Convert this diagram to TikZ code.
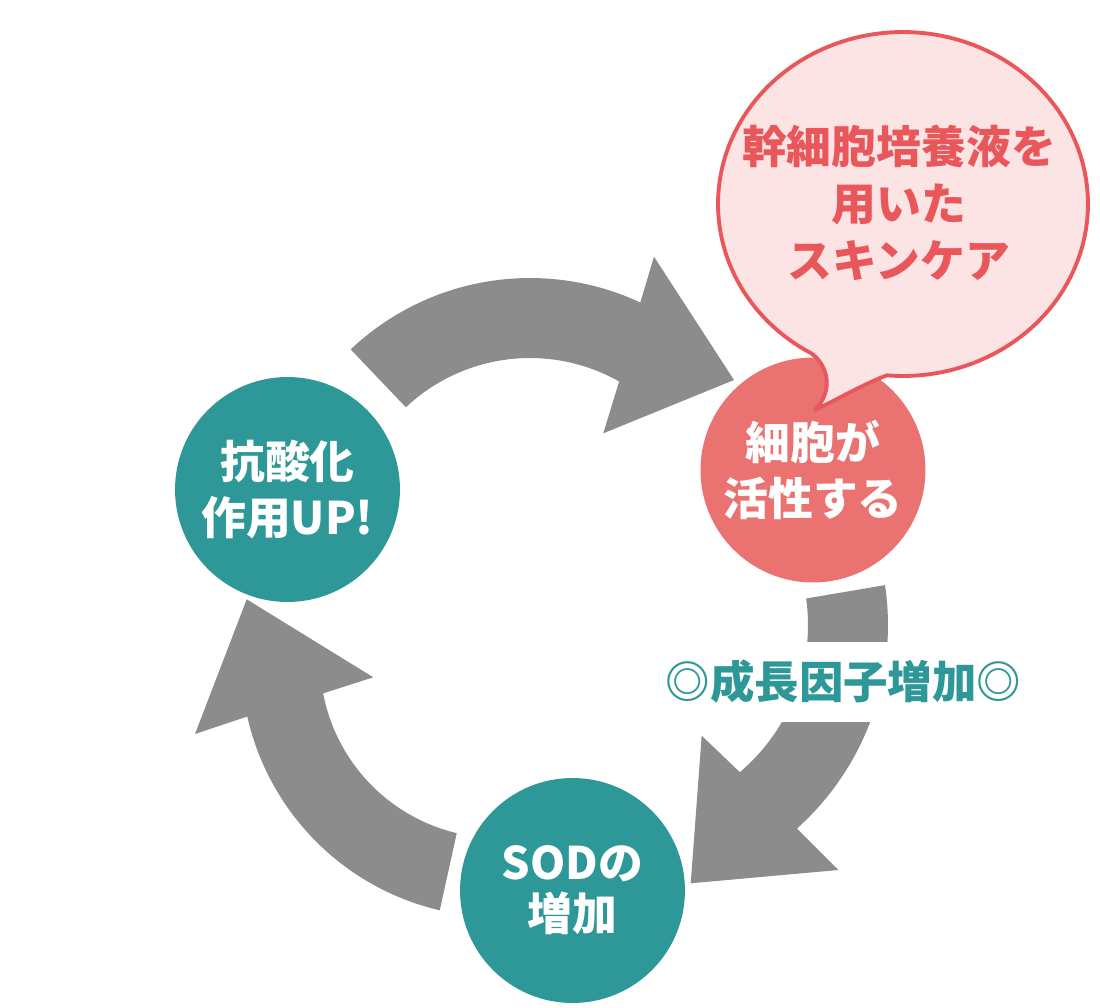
\documentclass[tikz,border=0pt]{standalone}
\usepackage{fontspec}
\setmainfont{Noto Sans CJK JP}
\definecolor{tealc}{HTML}{2E9797}
\definecolor{rosec}{HTML}{EA7372}
\definecolor{arrowgray}{HTML}{8C8C8C}
\definecolor{bubblefill}{HTML}{FCE3E4}
\definecolor{bubbleline}{HTML}{E9575B}
\begin{document}
\begin{tikzpicture}[x=0.02cm, y=-0.02cm,
  bigarrow/.style={fill=arrowgray, draw=none},
  stagecircle/.style={circle, minimum size=4.5cm, inner sep=0pt, text=white, align=center,
    font=\bfseries\fontsize{25.5pt}{31.5pt}\selectfont},
  growthlabel/.style={fill=white, text=tealc, inner xsep=1pt, minimum height=1.62cm,
    font=\bfseries\fontsize{25.3pt}{30pt}\selectfont},
  bubbletextstyle/.style={text=bubbleline, align=center,
    font=\bfseries\fontsize{25.5pt}{32.3pt}\selectfont}]
\useasboundingbox (0,0) rectangle (1100,1008);

% top arrow: antioxidant -> cell
\fill[bigarrow]
  plot[domain=-133.4:-65, samples=50, variable=\t] ({530+261*cos(\t)},{539+261*sin(\t)})
  -- (654,256.7) -- (734,380) -- (603.3,433.3)
  -- plot[domain=-60.5:-133.3, samples=50, variable=\t] ({530+181*cos(\t)},{539+181*sin(\t)})
  -- cycle;

% right arrow: cell -> SOD
\fill[bigarrow]
  plot[domain=-8.4:48.2, samples=50, variable=\t] ({615+273*cos(\t)},{625+273*sin(\t)})
  -- (838.3,870) -- (690.7,883.3) -- (701.7,735.7)
  -- plot[domain=49.7:-7.9, samples=50, variable=\t] ({615+193*cos(\t)},{625+193*sin(\t)})
  -- cycle;

% left arrow: SOD -> antioxidant
\fill[bigarrow]
  plot[domain=103.1:167.3, samples=50, variable=\t] ({498+257*cos(\t)},{660+257*sin(\t)})
  -- (195,734) -- (246.7,599.3) -- (373.3,677.3)
  -- plot[domain=169.2:103.4, samples=50, variable=\t] ({498+178*cos(\t)},{660+178*sin(\t)})
  -- cycle;

% stage circles
\node[stagecircle, fill=tealc] (anti) at (287.5,489.5) {抗酸化\\作用UP!};
\node[stagecircle, fill=rosec] (cell) at (813,470) {細胞が\\活性する};
\node[stagecircle, fill=tealc, font=\bfseries\fontsize{25.5pt}{29pt}\selectfont] (sod) at (572.5,890.5) {SODの\\増加};

% label on the right arrow
\node[growthlabel] (growth) at (843.5,682) {◎成長因子増加◎};

% speech bubble
\filldraw[fill=bubblefill, draw=bubbleline, line width=2.2pt, line join=round]
  plot[domain=119.8:455, samples=160, variable=\t] ({903+185*cos(\t)},{204+172*sin(\t)})
  .. controls (866,383) and (840,398) .. (815,410)
  .. controls (834,390) and (828,365) .. (811,353.2) -- cycle;
\node[bubbletextstyle] (bubbletext) at (899,203) {幹細胞培養液を\\用いた\\スキンケア};
\end{tikzpicture}
\end{document}
